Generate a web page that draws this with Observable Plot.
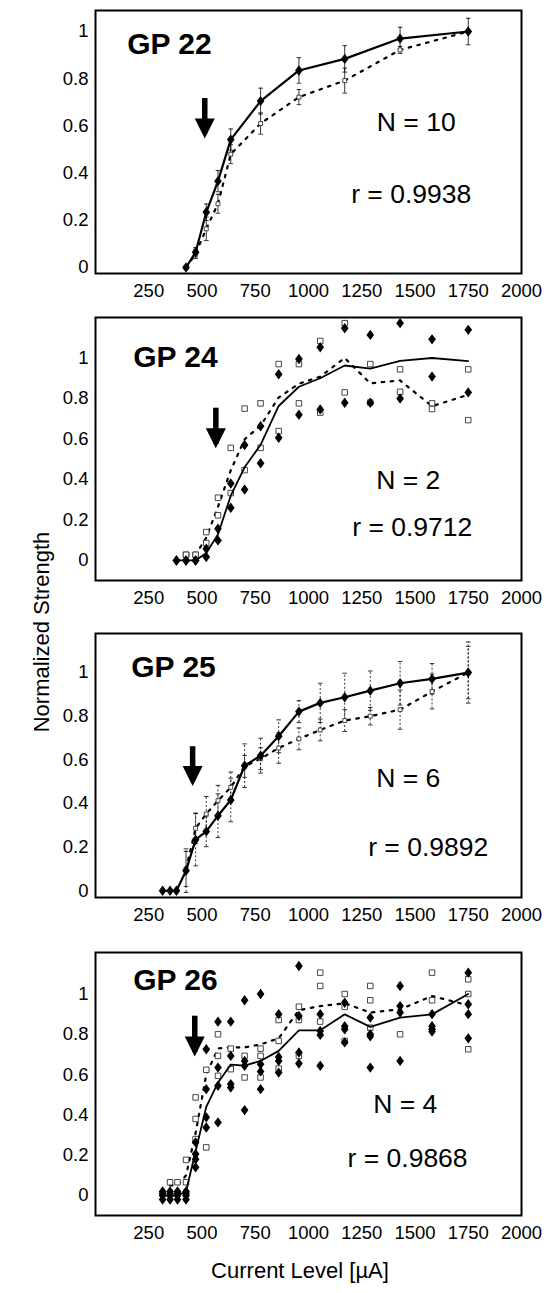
<!DOCTYPE html>
<html><head><meta charset="utf-8">
<script src="https://cdn.jsdelivr.net/npm/d3@7"></script>
<script src="https://cdn.jsdelivr.net/npm/@observablehq/plot@0.6"></script>
<style>
body{margin:0;background:#fff;}
#root{position:relative;width:550px;height:1293px;font-family:"Liberation Sans",Arial,Helvetica,sans-serif;color:#000;overflow:hidden;}
.panel{position:absolute;left:0;}
.ytitle{position:absolute;left:42px;top:632px;transform:translate(-50%,-50%) rotate(-90deg);font-size:22px;white-space:nowrap;line-height:1;}
.xtitle{position:absolute;left:300px;top:1271px;transform:translate(-50%,-50%);font-size:22px;white-space:nowrap;line-height:1;}
</style>
</head><body>
<div id="root">
  <div class="ytitle">Normalized Strength</div>
  <div class="xtitle">Current Level [µA]</div>
</div>
<script>
// ---------- tick labels ----------
const xTicks = [250, 500, 750, 1000, 1250, 1500, 1750, 2000];
const yTicks = [0, 0.2, 0.4, 0.6, 0.8, 1];
const panelNames = ["GP 22", "GP 24", "GP 25", "GP 26"];
const nLabels = ["N = 10", "N = 2", "N = 6", "N = 4"];
const rLabels = ["r = 0.9938", "r = 0.9712", "r = 0.9892", "r = 0.9868"];

// ---------- GP 22 (means ± error) ----------
const gp22Current   = [425, 470, 520, 575, 635, 775, 955, 1170, 1430, 1750];
const gp22Solid     = [0.0, 0.065, 0.234, 0.366, 0.542, 0.705, 0.835, 0.884, 0.97, 1.0];
const gp22SolidErr  = [0.0, 0.02, 0.035, 0.045, 0.045, 0.055, 0.054, 0.056, 0.048, 0.056];
const gp22Dotted    = [0.0, 0.058, 0.164, 0.27, 0.48, 0.61, 0.722, 0.792, 0.922, 1.0];
const gp22DottedErr = [0.0, 0.02, 0.05, 0.04, 0.04, 0.045, 0.032, 0.053, 0.015, 0.0];

// ---------- GP 24 (individual points + means) ----------
const gp24Current  = [380, 425, 470, 520, 575, 635, 700, 775, 860, 955, 1055, 1170, 1290, 1430, 1580, 1750];
const gp24Solid    = [0, 0, 0, 0.037, 0.128, 0.32, 0.46, 0.571, 0.763, 0.858, 0.9, 0.963, 0.947, 0.986, 1.0, 0.985];
const gp24Dotted   = [null, 0.028, 0.028, 0.113, 0.265, 0.445, 0.598, 0.666, 0.805, 0.873, 0.908, 1.0, 0.875, 0.889, 0.762, 0.818];
const gp24DiamondA = [0, 0, 0, 0.058, 0.157, 0.38, 0.57, 0.663, 0.92, 0.995, 1.053, 1.147, 1.114, 1.172, 1.092, 1.139];
const gp24DiamondB = [0, 0, 0, 0.017, 0.099, 0.26, 0.35, 0.48, 0.606, 0.72, 0.746, 0.779, 0.779, 0.80, 0.908, 0.83];
const gp24SquareA  = [null, 0.028, 0.028, 0.14, 0.31, 0.556, 0.75, 0.776, 0.97, 0.97, 1.084, 1.172, 0.97, 0.944, 0.776, 0.944];
const gp24SquareB  = [null, 0.028, 0.028, 0.086, 0.223, 0.333, 0.446, 0.556, 0.639, 0.776, 0.73, 0.83, 0.78, 0.833, 0.748, 0.693];

// ---------- GP 25 (means ± error) ----------
const gp25Current   = [315, 350, 380, 425, 470, 520, 575, 635, 700, 775, 860, 955, 1055, 1170, 1290, 1430, 1580, 1750];
const gp25Solid     = [0, 0, 0, 0.092, 0.234, 0.272, 0.344, 0.416, 0.573, 0.619, 0.708, 0.821, 0.861, 0.887, 0.917, 0.951, 0.971, 1.0];
const gp25SolidErr  = [0, 0, 0, 0.1, 0.12, 0.07, 0.1, 0.1, 0.1, 0.08, 0.075, 0.05, 0.09, 0.11, 0.09, 0.1, 0.07, 0.14];
const gp25Dotted    = [null, null, null, 0.1, 0.286, 0.352, 0.413, 0.474, 0.57, 0.605, 0.654, 0.696, 0.737, 0.78, 0.8, 0.83, 0.913, 1.0];
const gp25DottedErr = [0, 0, 0, 0.08, 0.07, 0.08, 0.07, 0.07, 0.05, 0.05, 0.07, 0.05, 0.05, 0.05, 0.04, 0.09, 0.08, 0.12];

// ---------- GP 26 (individual points + means) ----------
const gp26Current  = [315, 350, 385, 425, 470, 520, 575, 635, 700, 775, 860, 955, 1055, 1170, 1290, 1430, 1580, 1750];
const gp26Solid    = [0, 0, 0, 0.02, 0.22, 0.44, 0.56, 0.65, 0.645, 0.668, 0.718, 0.82, 0.82, 0.899, 0.837, 0.883, 0.899, 1.0];
const gp26Dotted   = [null, 0.05, 0.05, 0.1, 0.31, 0.6, 0.73, 0.735, 0.735, 0.75, 0.78, 0.92, 0.94, 0.954, 0.908, 0.924, 0.99, 0.944];
const gp26DiamondA = [0.02, 0.02, 0.02, 0.02, 0.264, 0.726, 0.863, 0.863, 0.969, 1.0, 0.9, 1.139, 0.9, 0.957, 0.883, 1.04, 0.9, 1.106];
const gp26DiamondB = [0.0, 0.0, 0.0, 0.0, 0.206, 0.528, 0.635, 0.693, 0.668, 0.652, 0.688, 0.891, 0.817, 0.84, 0.8, 0.94, 0.84, 0.949];
const gp26DiamondC = [-0.02, -0.02, -0.02, -0.02, 0.14, 0.388, 0.545, 0.553, 0.644, 0.616, 0.668, 0.71, 0.797, 0.825, 0.79, 0.908, 0.825, 0.9];
const gp26DiamondD = [0.01, 0.01, 0.01, 0.01, 0.18, 0.338, 0.363, 0.536, 0.424, 0.528, 0.61, 0.655, 0.644, 0.76, 0.635, 0.668, 0.814, 0.78];
const gp26SquareA  = [null, 0.066, 0.066, 0.177, 0.487, 0.624, 0.8, 0.729, 0.693, 0.729, 0.871, 0.937, 1.106, 1.0, 1.04, 0.8, 1.106, 1.073];
const gp26SquareB  = [null, null, null, 0.066, 0.38, 0.239, 0.693, 0.627, 0.586, 0.693, 0.767, 0.871, 1.04, 0.936, 0.969, null, 0.969, 1.0];
const gp26SquareC  = [null, null, null, null, 0.28, null, 0.594, null, null, 0.586, 0.63, 0.693, 0.863, 0.767, 0.833, null, null, 0.726];

// ---------- annotation anchors (data units) ----------
const nameAt  = [[149, 0.905], [177, 0.957], [168, 0.978], [177, 1.02]];
const nAt     = [[1506, 0.58], [1468, 0.351], [1468, 0.474], [1454, 0.412]];
const rAt     = [[1482, 0.272], [1487, 0.12], [1562, 0.16], [1465, 0.14]];
const arrowAt = [[513, 0.716, 0.547], [565, 0.752, 0.554], [456, 0.66, 0.48], [466, 0.89, 0.69]];

// ---------- helpers ----------
const fontFamily = '"Liberation Sans", Arial, Helvetica, sans-serif';
const pts = (xs, ys) => xs.map((x, i) => ({x, y: ys[i]})).filter(d => d.y != null);
const errs = (xs, ys, es) => xs.map((x, i) => ({x, y: ys[i], e: es[i]})).filter(d => d.y != null && d.e > 0);
const capSymbol = {draw(ctx, size) { const w = Math.sqrt(size) / 2; ctx.moveTo(-w, 0); ctx.lineTo(w, 0); }};
const headSymbol = {draw(ctx, size) { const a = Math.sqrt(size); ctx.moveTo(-a / 2, -a); ctx.lineTo(a / 2, -a); ctx.lineTo(0, 0); ctx.closePath(); }};
const diamondSymbol = {draw(ctx, size) { const a = Math.sqrt(size) / 2; ctx.moveTo(0, -a * 1.15); ctx.lineTo(a * 0.85, 0); ctx.lineTo(0, a * 1.15); ctx.lineTo(-a * 0.85, 0); ctx.closePath(); }};

function errorMarks(data, dashed) {
  const caps = data.flatMap(d => [{x: d.x, y: d.y + d.e}, {x: d.x, y: d.y - d.e}]);
  return [
    Plot.ruleX(data, {x: "x", y1: d => d.y - d.e, y2: d => d.y + d.e, stroke: "#000", strokeWidth: 0.8, strokeDasharray: dashed ? "2,2" : null}),
    Plot.dot(caps, {x: "x", y: "y", symbol: capSymbol, r: 2.6, fill: "none", stroke: "#000", strokeWidth: 0.8})
  ];
}

function makePanel(i, cfg) {
  const innerH = cfg.frameBottom - cfg.frameTop;
  const marks = [];
  if (cfg.solidErr) marks.push(...errorMarks(cfg.solidErr, cfg.dashedErr));
  if (cfg.dottedErr) marks.push(...errorMarks(cfg.dottedErr, cfg.dashedErr));
  marks.push(Plot.line(cfg.dotted, {x: "x", y: "y", stroke: "#000", strokeWidth: 2.2, strokeDasharray: "2.5,6.5"}));
  marks.push(Plot.dot(cfg.squares, {x: "x", y: "y", symbol: "square", r: cfg.sqR, fill: "#fff", stroke: "#333", strokeWidth: 0.9}));
  marks.push(Plot.line(cfg.solid, {x: "x", y: "y", stroke: "#000", strokeWidth: cfg.solidW}));
  marks.push(Plot.dot(cfg.diamonds, {x: "x", y: "y", symbol: diamondSymbol, r: 5.1, fill: "#000", stroke: "none"}));
  const ar = arrowAt[i];
  marks.push(Plot.ruleX([{x: ar[0], y1: ar[1], y2: ar[2] + 0.02}], {x: "x", y1: "y1", y2: "y2", stroke: "#000", strokeWidth: 5.5}));
  marks.push(Plot.dot([{x: ar[0], y: ar[2]}], {x: "x", y: "y", symbol: headSymbol, r: 11.3, fill: "#000", stroke: "none"}));
  marks.push(Plot.text([{x: nameAt[i][0], y: nameAt[i][1], t: panelNames[i]}], {x: "x", y: "y", text: "t", textAnchor: "start", lineAnchor: "bottom", fontSize: 30, fontWeight: "bold", fill: "#000"}));
  marks.push(Plot.text([{x: nAt[i][0], y: nAt[i][1], t: nLabels[i]}], {x: "x", y: "y", text: "t", textAnchor: "middle", lineAnchor: "bottom", fontSize: 26.5, fill: "#000"}));
  marks.push(Plot.text([{x: rAt[i][0], y: rAt[i][1], t: rLabels[i]}], {x: "x", y: "y", text: "t", textAnchor: "middle", lineAnchor: "bottom", fontSize: 26.5, fill: "#000"}));
  marks.push(Plot.frame({stroke: "#000", strokeWidth: 2}));

  const svg = Plot.plot({
    width: 550,
    height: innerH + 40,
    marginLeft: 95, marginRight: 29, marginTop: 10, marginBottom: 30,
    x: {domain: [0, 2000], ticks: xTicks, tickSize: 0, tickPadding: 10, label: null, tickFormat: d => String(d)},
    y: {domain: cfg.yDomain, ticks: yTicks, tickSize: 0, tickPadding: 7, label: null, tickFormat: d => String(d)},
    style: {fontFamily, fontSize: "18.5px", color: "#000", background: "transparent", overflow: "visible"},
    marks
  });
  const div = document.createElement("div");
  div.className = "panel";
  div.style.top = (cfg.frameTop - 10) + "px";
  div.appendChild(svg);
  document.getElementById("root").appendChild(div);
}

makePanel(0, {
  frameTop: 10, frameBottom: 273, yDomain: [-0.0254, 1.089],
  solid: pts(gp22Current, gp22Solid), dotted: pts(gp22Current, gp22Dotted),
  diamonds: pts(gp22Current, gp22Solid), squares: pts(gp22Current, gp22Dotted),
  solidErr: errs(gp22Current, gp22Solid, gp22SolidErr), dottedErr: errs(gp22Current, gp22Dotted, gp22DottedErr),
  dashedErr: false, sqR: 2.2, solidW: 2.2
});
makePanel(1, {
  frameTop: 317, frameBottom: 580, yDomain: [-0.099, 1.2],
  solid: pts(gp24Current, gp24Solid), dotted: pts(gp24Current, gp24Dotted),
  diamonds: [...pts(gp24Current, gp24DiamondA), ...pts(gp24Current, gp24DiamondB)],
  squares: [...pts(gp24Current, gp24SquareA), ...pts(gp24Current, gp24SquareB)],
  sqR: 3.1, solidW: 1.8
});
makePanel(2, {
  frameTop: 633, frameBottom: 897, yDomain: [-0.031, 1.179],
  solid: pts(gp25Current, gp25Solid), dotted: pts(gp25Current, gp25Dotted),
  diamonds: pts(gp25Current, gp25Solid), squares: pts(gp25Current, gp25Dotted),
  solidErr: errs(gp25Current, gp25Solid, gp25SolidErr), dottedErr: errs(gp25Current, gp25Dotted, gp25DottedErr),
  dashedErr: true, sqR: 2.2, solidW: 2.2
});
makePanel(3, {
  frameTop: 952, frameBottom: 1215, yDomain: [-0.099, 1.206],
  solid: pts(gp26Current, gp26Solid), dotted: pts(gp26Current, gp26Dotted),
  diamonds: [...pts(gp26Current, gp26DiamondA), ...pts(gp26Current, gp26DiamondB), ...pts(gp26Current, gp26DiamondC), ...pts(gp26Current, gp26DiamondD)],
  squares: [...pts(gp26Current, gp26SquareA), ...pts(gp26Current, gp26SquareB), ...pts(gp26Current, gp26SquareC)],
  sqR: 3.1, solidW: 1.8
});
</script>
</body></html>
